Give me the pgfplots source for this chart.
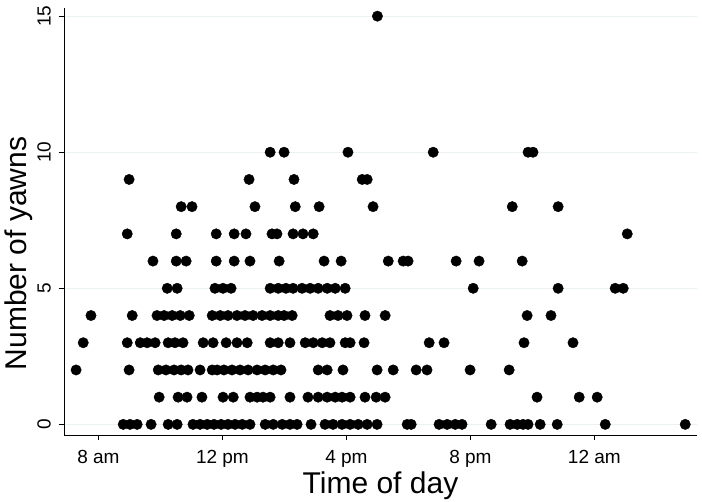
\documentclass[border=0pt]{standalone}
\usepackage{pgfplots}
\pgfplotsset{compat=1.18}
\usepackage{fontspec}
\setmainfont{Liberation Sans}
\definecolor{gridc}{RGB}{234,242,243}
\begin{document}
\begin{tikzpicture}
\begin{axis}[
  scale only axis, width=633pt, height=427pt,
  xmin=6.89, xmax=27.31, ymin=-0.39, ymax=15.3,
  axis x line*=bottom, axis y line*=left,
  axis line style={-, black, line width=0.7pt},
  xtick={8,12,16,20,24}, xticklabels={8 am,12 pm,4 pm,8 pm,12 am},
  ytick={0,5,10,15},
  ymajorgrids, grid style={gridc, line width=1pt},
  tick align=outside, major tick length=5pt,
  tick style={black, line width=0.7pt},
  /pgf/number format/assume math mode=true,
  ticklabel style={font=\fontsize{19}{21}\selectfont, inner sep=0pt},
  yticklabel style={rotate=90, anchor=south},
  xticklabel style={anchor=north},
  xticklabel shift=10pt, yticklabel shift=8pt,
  xlabel={Time of day}, ylabel={Number of yawns},
  label style={font=\fontsize{30}{34}\selectfont, inner sep=0pt},
  xlabel style={at={(axis description cs:0.5,0)}, anchor=base, yshift=-59pt},
  ylabel style={at={(axis description cs:0,0.5)}, anchor=base, xshift=-32pt, yshift=37pt},
  clip=false,
]
\addplot[only marks, mark=*, mark size=5.2pt, black] table[x=h, y=n] {
h n
8.80 0
9.02 0
9.25 0
9.70 0
10.25 0
10.54 0
11.05 0
11.28 0
11.51 0
11.73 0
11.96 0
12.18 0
12.41 0
12.64 0
12.89 0
13.38 0
13.64 0
13.93 0
14.18 0
14.41 0
14.86 0
15.31 0
15.57 0
15.86 0
16.12 0
16.38 0
16.67 0
16.99 0
17.96 0
18.09 0
18.99 0
19.25 0
19.51 0
19.73 0
20.67 0
21.28 0
21.51 0
21.70 0
21.86 0
22.25 0
22.80 0
24.35 0
26.93 0
9.96 1
10.57 1
10.86 1
11.34 1
12.02 1
12.35 1
12.89 1
13.12 1
13.31 1
13.54 1
14.18 1
14.76 1
15.09 1
15.38 1
15.64 1
15.86 1
16.12 1
16.60 1
16.96 1
17.25 1
22.15 1
23.51 1
24.09 1
7.28 2
8.99 2
9.93 2
10.18 2
10.44 2
10.67 2
10.89 2
11.28 2
11.67 2
11.83 2
12.05 2
12.31 2
12.57 2
12.83 2
13.12 2
13.38 2
13.64 2
13.89 2
15.09 2
15.38 2
15.89 2
16.99 2
17.51 2
18.25 2
18.60 2
19.99 2
21.25 2
7.51 3
8.93 3
9.35 3
9.57 3
9.83 3
10.25 3
10.47 3
10.73 3
11.38 3
11.70 3
12.12 3
12.47 3
12.80 3
13.54 3
13.80 3
14.18 3
14.67 3
14.93 3
15.22 3
15.47 3
15.96 3
16.12 3
16.57 3
18.67 3
19.15 3
21.73 3
23.31 3
7.76 4
9.09 4
9.89 4
10.12 4
10.38 4
10.64 4
10.93 4
11.67 4
11.93 4
12.18 4
12.47 4
12.73 4
12.99 4
13.28 4
13.54 4
13.80 4
13.99 4
14.25 4
15.47 4
15.73 4
16.02 4
16.60 4
17.25 4
21.83 4
22.60 4
10.22 5
10.54 5
11.76 5
12.02 5
12.28 5
13.54 5
13.80 5
14.05 5
14.28 5
14.57 5
14.83 5
15.09 5
15.38 5
15.64 5
15.96 5
20.09 5
22.83 5
24.67 5
24.93 5
9.76 6
10.51 6
10.83 6
11.80 6
12.38 6
12.89 6
13.83 6
15.28 6
15.83 6
17.35 6
17.83 6
17.99 6
19.54 6
20.28 6
21.67 6
8.93 7
10.51 7
11.80 7
12.38 7
12.76 7
13.60 7
13.76 7
14.28 7
14.60 7
14.93 7
25.06 7
10.67 8
11.02 8
13.05 8
14.35 8
15.12 8
16.86 8
21.35 8
22.83 8
8.99 9
12.86 9
14.31 9
16.51 9
16.67 9
13.54 10
13.99 10
16.05 10
18.80 10
21.86 10
22.02 10
17.00 15
};
\coordinate (sw) at (rel axis cs:0,0);
\end{axis}
\pgfresetboundingbox
\path (sw) ++(-64pt,-67pt) rectangle ++(702pt,502pt);
\end{tikzpicture}
\end{document}
